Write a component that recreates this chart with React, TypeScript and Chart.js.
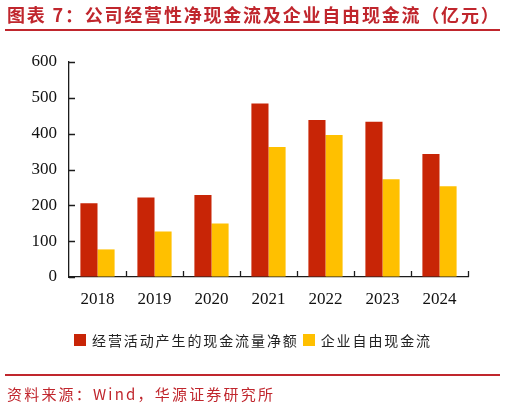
import { useEffect, useRef } from 'react';
import { Chart } from 'chart.js/auto';

const YEARS = ['2018', '2019', '2020', '2021', '2022', '2023', '2024'];
const OPERATING_CF = [206, 222, 229, 484, 438, 433, 343];
const FREE_CF = [77, 127, 149, 363, 396, 273, 253];
const SERIES_NAMES = ['经营活动产生的现金流量净额', '企业自由现金流'];
const SERIES_COLORS = ['#C82506', '#FFC000'];
const Y_MIN = 0, Y_MAX = 600, Y_STEP = 100;

const TITLE = '图表 7：公司经营性净现金流及企业自由现金流（亿元）';
const SOURCE = '资料来源：Wind，华源证券研究所';
const BRAND = '#C0262D';
const AXIS = '#1c1c1c';

// tick marks drawn inward (right of y axis, upward from x axis at category edges)
const innerTicks = {
  id: 'innerTicks',
  afterDatasetsDraw(chart: any) {
    const { ctx, scales: { x, y } } = chart;
    ctx.save();
    ctx.strokeStyle = AXIS;
    ctx.lineWidth = 1.3;
    ctx.beginPath();
    y.ticks.forEach((_: any, i: number) => {
      const py = Math.round(y.getPixelForTick(i)) + 0.5;
      ctx.moveTo(x.left, py); ctx.lineTo(x.left + 6, py);
    });
    const step = x.getPixelForValue(1) - x.getPixelForValue(0);
    for (let i = 1; i <= x.ticks.length; i++) {
      const px = Math.round(x.getPixelForValue(i) - step / 2) + 0.5;
      ctx.moveTo(px, y.bottom); ctx.lineTo(px, y.bottom - 6);
    }
    ctx.stroke();
    ctx.restore();
  },
};

export default function App() {
  const ref = useRef<HTMLCanvasElement>(null);
  const ci = useRef<Chart | null>(null);

  useEffect(() => {
    if (!ref.current) return;
    ci.current?.destroy();

    ci.current = new Chart(ref.current, {
      type: 'bar',
      data: {
        labels: YEARS,
        datasets: [
          { label: SERIES_NAMES[0], data: OPERATING_CF, backgroundColor: SERIES_COLORS[0], categoryPercentage: 0.6, barPercentage: 1 },
          { label: SERIES_NAMES[1], data: FREE_CF, backgroundColor: SERIES_COLORS[1], categoryPercentage: 0.6, barPercentage: 1 },
        ],
      },
      options: {
        responsive: false, animation: false,
        layout: { padding: { left: 0, top: 62, right: 38, bottom: 0 } },
        plugins: { legend: { display: false }, tooltip: { enabled: false } },
        scales: {
          x: {
            grid: { display: true, drawOnChartArea: false, drawTicks: false },
            border: { display: true, color: AXIS, width: 1.3 },
            ticks: { color: '#111', padding: 12, font: { family: '"Liberation Serif", serif', size: 17 } },
            afterFit: (s: any) => { s.height = 131; },
          },
          y: {
            min: Y_MIN, max: Y_MAX,
            grid: { display: true, drawOnChartArea: false, drawTicks: false },
            border: { display: true, color: AXIS, width: 1.3 },
            ticks: { stepSize: Y_STEP, color: '#111', padding: 12, font: { family: '"Liberation Serif", serif', size: 17 } },
            afterFit: (s: any) => { s.width = 69; },
          },
        },
      },
      plugins: [innerTicks],
    });

    return () => { ci.current?.destroy(); ci.current = null; };
  }, []);

  return (
    <div style={{ position: 'fixed', left: 0, top: 0, width: 506, height: 408, background: '#fff', overflow: 'hidden', fontFamily: '"Noto Sans CJK SC", sans-serif' }}>
      <canvas ref={ref} width={506} height={408} style={{ position: 'absolute', left: 0, top: 0, width: 506, height: 408 }} />
      <div style={{ position: 'absolute', left: 7, top: 2, fontSize: 18, lineHeight: '24px', fontWeight: 700, color: BRAND, letterSpacing: 1.8, whiteSpace: 'nowrap' }}>{TITLE}</div>
      <div style={{ position: 'absolute', left: 5, top: 28.5, width: 495, height: 2, background: BRAND }} />
      <div style={{ position: 'absolute', left: 74, top: 330, display: 'flex', alignItems: 'center', whiteSpace: 'nowrap', fontSize: 14, lineHeight: '20px', color: '#222', letterSpacing: 1.9 }}>
        {SERIES_NAMES.map((n, i) => (
          <div key={i} style={{ display: 'flex', alignItems: 'center', marginRight: 4 }}>
            <div style={{ width: 12, height: 12, background: SERIES_COLORS[i], marginRight: 6 }} />{n}
          </div>
        ))}
      </div>
      <div style={{ position: 'absolute', left: 5, top: 374, width: 495, height: 1.5, background: BRAND }} />
      <div style={{ position: 'absolute', left: 7, top: 384, fontSize: 15, lineHeight: '20px', color: BRAND, letterSpacing: 2.2, whiteSpace: 'nowrap' }}>{SOURCE}</div>
    </div>
  );
}
